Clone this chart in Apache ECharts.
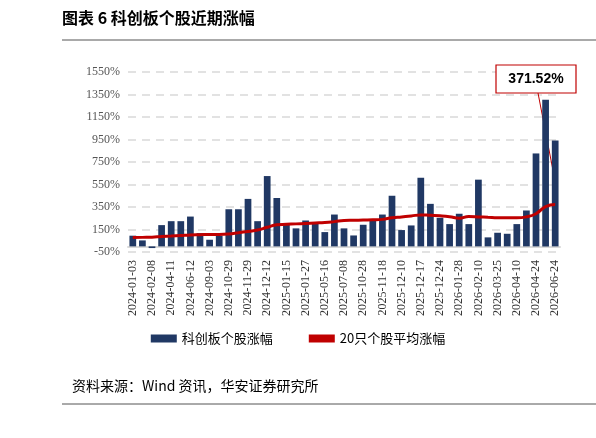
<!DOCTYPE html>
<html><head><meta charset="utf-8">
<script src="https://cdn.jsdelivr.net/npm/echarts@6/dist/echarts.min.js"></script>
<style>body{margin:0;background:#fff}#c{width:596px;height:438px}</style>
</head><body><div id="c"></div>
<script>
const tickLabels = ['2024-01-03','2024-02-08','2024-04-11','2024-06-12','2024-09-03','2024-10-29','2024-11-29','2024-12-12','2025-01-15','2025-01-27','2025-05-16','2025-07-08','2025-10-28','2025-11-18','2025-12-10','2025-12-17','2025-12-24','2026-01-28','2026-02-10','2026-03-25','2026-04-10','2026-04-24','2026-06-24']
const stockRise = [95,53,-15,189,224,224,265,118,59,94,330,330,422,224,625,430,195,160,230,212,127,283,160,97,192,230,283,450,145,186,610,378,254,198,290,198,593,80,121,112,198,319,826,1304,941]
const avgRise = [78,80,82,88,92,97,102,104,106,106,110,121,133,145,170,192,196,200,204,208,212,220,230,232,234,236,240,254,262,270,280,276,272,264,250,265,262,258,254,254,254,262,290,354,371.52]

// 45 categories, tick labels every other bar
const cats = stockRise.map((v, i) => i % 2 === 0 && tickLabels[i / 2] ? tickLabels[i / 2] : '')

const chart = echarts.init(document.getElementById('c'))
const serif = 'Liberation Serif'
chart.setOption({
  animation: false,
  grid: { left: 128, right: 36, top: 72, bottom: 186 },
  legend: {
    bottom: 88, left: 'center', itemGap: 36, itemWidth: 26, itemHeight: 8,
    textStyle: { fontFamily: 'Noto Sans CJK SC', fontSize: 13, color: '#000' },
    data: [{ name: '科创板个股涨幅', icon: 'rect' }, { name: '20只个股平均涨幅', icon: 'rect', itemStyle: { color: '#c00000' } }]
  },
  xAxis: {
    type: 'category', data: cats,
    axisLine: { lineStyle: { color: '#d9d9d9', width: 2 } }, axisTick: { show: false },
    axisLabel: { interval: 0, rotate: 90, fontFamily: serif, fontSize: 12, color: '#333', margin: 8 }
  },
  yAxis: {
    type: 'value', min: -50, max: 1550, interval: 200,
    axisLabel: { formatter: v => v + '%', fontFamily: serif, fontSize: 12, color: '#555' },
    splitLine: { lineStyle: { color: '#d9d9d9', type: [8, 6], width: 1.5 } }
  },
  series: [
    { name: '科创板个股涨幅', type: 'bar', data: stockRise, barWidth: '70%', itemStyle: { color: '#203864' } },
    { name: '20只个股平均涨幅', type: 'line', data: avgRise, smooth: true, symbol: 'none', lineStyle: { color: '#c00000', width: 3 } }
  ]
})

// annotation box pointing to the last average value
const last = avgRise.length - 1
const pt = chart.convertToPixel({ seriesIndex: 1 }, [last, avgRise[last]])
chart.setOption({
  graphic: [
    { type: 'text', left: 62, top: 10, style: { text: '图表 6 科创板个股近期涨幅', font: 'bold 16px "Noto Sans CJK SC"', fill: '#000' } },
    { type: 'line', shape: { x1: 62, y1: 40, x2: 596, y2: 40 }, style: { stroke: '#555', lineWidth: 1 } },
    { type: 'text', left: 72, top: 379, style: { text: '资料来源：Wind 资讯，华安证券研究所', font: '14px "Noto Sans CJK SC"', fill: '#000' } },
    { type: 'line', shape: { x1: 62, y1: 404, x2: 596, y2: 404 }, style: { stroke: '#555', lineWidth: 1 } },
    { type: 'line', shape: { x1: 538, y1: 93, x2: pt[0] - 1, y2: pt[1] - 28 }, style: { stroke: '#c00000', lineWidth: 1 } },
    { type: 'rect', shape: { x: 496, y: 65, width: 80, height: 28 }, style: { fill: '#fff', stroke: '#c00000', lineWidth: 1.2 } },
    { type: 'text', x: 536, y: 79, style: { text: '371.52%', font: 'bold 14px Arial', fill: '#000', align: 'center', verticalAlign: 'middle' } }
  ]
})
</script></body></html>
